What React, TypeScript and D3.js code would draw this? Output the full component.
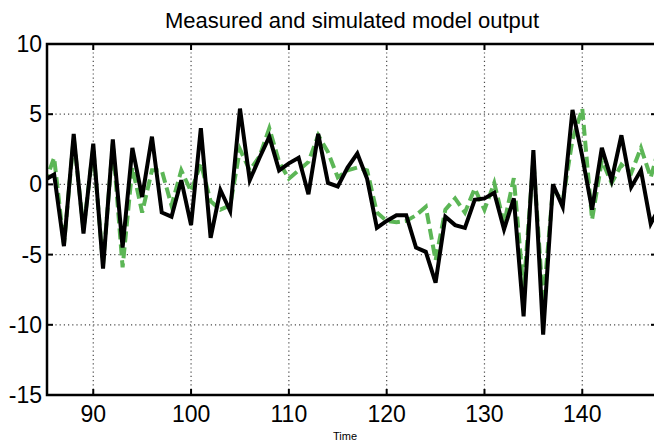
import React from "react";
import * as d3 from "d3";

// Sample times (one sample per time step)
const times: number[] = d3.range(85, 149);

// Measured output
const measured: number[] = [
  0.3, 0.7, -4.4, 3.6, -3.5, 2.9, -6.0, 3.2, -4.5, 2.6,
  -0.9, 3.4, -2.0, -2.3, 0.3, -2.9, 4.0, -3.8, -0.4, -1.9,
  5.4, 0.3, 1.9, 3.4, 1.0, 1.5, 1.9, -0.7, 3.6, 0.1,
  -0.15, 1.2, 2.2, 0.4, -3.1, -2.6, -2.2, -2.2, -4.5, -4.8,
  -7.0, -2.3, -2.9, -3.1, -1.1, -1.0, -0.6, -3.2, -1.0, -9.4,
  2.45, -10.7, 0.0, -1.6, 5.3, 2.0, -1.8, 2.6, 0.3, 3.5,
  -0.2, 1.0, -2.8, -1.5,
];

// Simulated model output
const simulated: number[] = [
  0.0, 1.9, -4.3, 3.3, -3.2, 2.6, -5.7, 2.9, -5.9, 1.2,
  -2.0, 1.0, 1.0, -1.5, 1.0, -0.5, 1.5, -1.2, -1.8, -1.5,
  2.5, 1.0, 2.0, 4.0, 1.6, 0.4, 1.0, 1.6, 3.5, 2.3,
  0.5, 1.0, 1.2, 1.0, -2.0, -2.6, -2.7, -2.6, -2.2, -1.6,
  -5.4, -1.8, -1.0, -2.0, -0.3, -1.8, 0.1, -2.8, 0.45, -7.5,
  1.8, -8.5, -0.3, -1.2, 3.2, 5.4, -2.5, 1.7, 0.1, 1.4,
  0.8, 2.6, 0.5, 3.0,
];

const xTicks: number[] = [90, 100, 110, 120, 130, 140];
const yTicks: number[] = [10, 5, 0, -5, -10, -15];

const title = "Measured and simulated model output";
const xLabel = "Time";

const W = 654;
const H = 445;
const left = 47;
const right = 657;
const top = 44;
const bottom = 395;
const font = "'Liberation Sans', Arial, sans-serif";

export default function App() {
  const x = d3.scaleLinear().domain([85.27, 147.64]).range([left, right]);
  const y = d3.scaleLinear().domain([-15, 10]).range([bottom, top]);

  const line = d3
    .line<number>()
    .x((_, i) => x(times[i]))
    .y((d) => y(d));

  const tickLen = 6;

  return (
    <div style={{ position: "fixed", left: 0, top: 0 }}>
      <svg width={W} height={H} style={{ display: "block", background: "#fff" }}>
        <defs>
          <clipPath id="plot-area">
            <rect x={left} y={top} width={right - left} height={bottom - top} />
          </clipPath>
        </defs>

        {/* grid */}
        <g stroke="#000" strokeWidth={1.2} strokeDasharray="1.2,3" opacity={0.7}>
          {xTicks.map((t) => (
            <line key={"gx" + t} x1={x(t)} x2={x(t)} y1={top} y2={bottom} />
          ))}
          {yTicks.slice(1, -1).map((t) => (
            <line key={"gy" + t} x1={left} x2={right} y1={y(t)} y2={y(t)} />
          ))}
        </g>

        {/* series */}
        <g clipPath="url(#plot-area)" fill="none" strokeLinejoin="miter" strokeLinecap="butt">
          <path
            d={line(simulated) ?? ""}
            stroke="rgb(92,182,86)"
            strokeWidth={4}
            strokeDasharray="11,5"
          />
          <path d={line(measured) ?? ""} stroke="#000" strokeWidth={4} />
        </g>

        {/* box and ticks */}
        <rect
          x={left}
          y={top}
          width={right - left}
          height={bottom - top}
          fill="none"
          stroke="#000"
          strokeWidth={2.5}
        />
        <g stroke="#000" strokeWidth={2}>
          {xTicks.map((t) => (
            <g key={"tx" + t}>
              <line x1={x(t)} x2={x(t)} y1={bottom} y2={bottom - tickLen} />
              <line x1={x(t)} x2={x(t)} y1={top} y2={top + tickLen} />
            </g>
          ))}
          {yTicks.map((t) => (
            <g key={"ty" + t}>
              <line x1={left} x2={left + tickLen} y1={y(t)} y2={y(t)} />
              <line x1={right} x2={right - tickLen} y1={y(t)} y2={y(t)} />
            </g>
          ))}
        </g>

        {/* tick labels */}
        <g fontFamily={font} fontSize={23} fill="#000">
          {xTicks.map((t) => (
            <text key={"lx" + t} x={x(t)} y={bottom + 27} textAnchor="middle">
              {t}
            </text>
          ))}
          {yTicks.map((t) => (
            <text key={"ly" + t} x={left - 5} y={y(t) + 8} textAnchor="end">
              {t}
            </text>
          ))}
        </g>

        <text
          x={352}
          y={28}
          textAnchor="middle"
          fontFamily={font}
          fontSize={22}
          fill="#000"
        >
          {title}
        </text>
        <text
          x={345}
          y={440}
          textAnchor="middle"
          fontFamily={font}
          fontSize={11}
          fill="#000"
        >
          {xLabel}
        </text>
      </svg>
    </div>
  );
}
